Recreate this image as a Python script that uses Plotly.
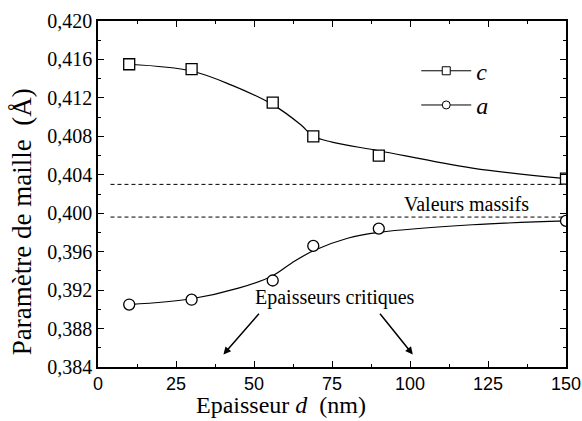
import plotly.graph_objects as go

# measured data
d_c = [10, 30, 56, 69, 90, 150]
c_vals = [0.4155, 0.4150, 0.4115, 0.4080, 0.4060, 0.4036]
d_a = [10, 30, 56, 69, 90, 150]
a_vals = [0.3905, 0.3910, 0.3930, 0.3966, 0.3984, 0.3992]

# fitted curves
fit_c_x = [10, 30, 43, 56, 65, 69, 75, 90, 120, 150]
fit_c_y = [0.4155, 0.4148, 0.4133, 0.4113, 0.4092, 0.4080, 0.4074, 0.4065, 0.4047, 0.4036]
fit_a_x = [10, 30, 45, 56, 62, 69, 80, 90, 120, 150]
fit_a_y = [0.3905, 0.3911, 0.3922, 0.3935, 0.3948, 0.3961, 0.3974, 0.3980, 0.3988, 0.3992]

# bulk values
bulk_x = [4, 150]
bulk_c = 0.4030
bulk_a = 0.3996

x_ticks = [0, 25, 50, 75, 100, 125, 150]
y_ticks = [0.384, 0.388, 0.392, 0.396, 0.400, 0.404, 0.408, 0.412, 0.416, 0.420]

serif = "Liberation Serif"
sans = "Liberation Sans"

fig = go.Figure()
fig.add_trace(go.Scatter(x=bulk_x, y=[bulk_c, bulk_c], mode="lines",
                         line=dict(color="black", width=1, dash="4px,3px"), showlegend=False))
fig.add_trace(go.Scatter(x=bulk_x, y=[bulk_a, bulk_a], mode="lines",
                         line=dict(color="black", width=1, dash="4px,3px"), showlegend=False))
fig.add_trace(go.Scatter(x=fit_c_x, y=fit_c_y, mode="lines",
                         line=dict(color="black", width=1.2, shape="spline", smoothing=1.0),
                         showlegend=False))
fig.add_trace(go.Scatter(x=fit_a_x, y=fit_a_y, mode="lines",
                         line=dict(color="black", width=1.2, shape="spline", smoothing=1.0),
                         showlegend=False))
fig.add_trace(go.Scatter(x=d_c, y=c_vals, mode="markers",
                         marker=dict(symbol="square", size=11, color="white", line=dict(color="black", width=1.3)),
                         showlegend=False))
fig.add_trace(go.Scatter(x=d_a, y=a_vals, mode="markers",
                         marker=dict(symbol="circle", size=11, color="white", line=dict(color="black", width=1.3)),
                         showlegend=False))
# legend entries
fig.add_trace(go.Scatter(x=[None], y=[None], mode="lines+markers", name="<i>c</i>",
                         line=dict(color="black", width=1),
                         marker=dict(symbol="square", size=8, color="white", line=dict(color="black", width=1))))
fig.add_trace(go.Scatter(x=[None], y=[None], mode="lines+markers", name="<i>a</i>",
                         line=dict(color="black", width=1),
                         marker=dict(symbol="circle", size=8, color="white", line=dict(color="black", width=1))))

fig.add_annotation(x=118, y=0.4010, text="Valeurs massifs", showarrow=False,
                   font=dict(family=serif, size=20, color="black"))
fig.add_annotation(x=76, y=0.3912, text="Epaisseurs critiques", showarrow=False,
                   font=dict(family=serif, size=20, color="black"))
for hx, tx in [(40.2, 52), (100.9, 90)]:
    fig.add_annotation(x=hx, y=0.3853, ax=tx, ay=0.3897, xref="x", yref="y", axref="x", ayref="y",
                       text="", showarrow=True, arrowhead=2, arrowsize=1, arrowwidth=1.5, arrowcolor="black")

# axis titles (placed as in the original, off-centre)
fig.add_annotation(x=0.391, y=-0.11, xref="paper", yref="paper", xanchor="center", yanchor="middle",
                   text="Epaisseur <i>d</i>\u00a0 (nm)", showarrow=False,
                   font=dict(family=serif, size=24, color="black"))
fig.add_annotation(x=-0.162, y=0.419, xref="paper", yref="paper", xanchor="center", yanchor="middle",
                   text="Paramètre de maille\u00a0 (Å)", showarrow=False, textangle=-90,
                   font=dict(family=serif, size=27, color="black"))

fig.update_layout(
    width=582, height=421,
    margin=dict(l=98, r=16, t=21, b=54, autoexpand=False),
    paper_bgcolor="white", plot_bgcolor="white",
    separators=", ",
    showlegend=True,
    legend=dict(x=0.68, y=0.92, xanchor="left", yanchor="top", bgcolor="rgba(0,0,0,0)",
                font=dict(family=serif, size=24, color="black"), tracegroupgap=0, itemwidth=50),
    xaxis=dict(range=[0, 150], tickvals=x_ticks, ticks="inside", ticklen=6,
               tickwidth=1.3, tickcolor="black", showline=True, linecolor="black", linewidth=1.5, mirror="ticks",
               showgrid=False, zeroline=False, automargin=False,
               minor=dict(dtick=12.5, ticks="inside", ticklen=3, tickcolor="black", tickwidth=1),
               tickfont=dict(family=sans, size=18, color="black")),
    yaxis=dict(range=[0.384, 0.420], tickvals=y_ticks,
               tickformat=".3f", ticks="inside", ticklen=6, tickwidth=1.3, tickcolor="black",
               showline=True, linecolor="black", linewidth=1.5, mirror="ticks", showgrid=False, zeroline=False,
               automargin=False,
               minor=dict(dtick=0.002, ticks="inside", ticklen=3, tickcolor="black", tickwidth=1),
               tickfont=dict(family=serif, size=20, color="black")),
)

fig.write_html("out.html", config={"displayModeBar": False},
               post_script="document.body.style.margin='0';")
